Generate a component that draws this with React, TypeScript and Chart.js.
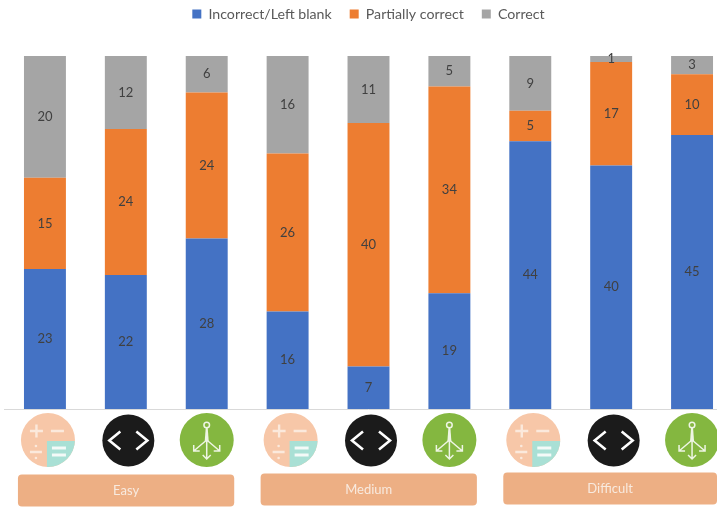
import React, { useEffect, useRef } from "react";
import { Chart, registerables } from "chart.js";

Chart.register(...registerables);

const categories = ["Easy A", "Easy B", "Easy C", "Medium A", "Medium B", "Medium C", "Difficult A", "Difficult B", "Difficult C"];
const iconKinds = ["calc", "code", "anchor", "calc", "code", "anchor", "calc", "code", "anchor"];
const incorrect = [23, 22, 28, 16, 7, 19, 44, 40, 45];
const partial = [15, 24, 24, 26, 40, 34, 5, 17, 10];
const correct = [20, 12, 6, 16, 11, 5, 9, 1, 3];
const groupNames = ["Easy", "Medium", "Difficult"];
const groupFirst = [0, 3, 6];
const groupLast = [2, 5, 8];

const FONT = "Lato, 'Open Sans', sans-serif";

function drawCalc(c: CanvasRenderingContext2D, x: number, y: number, r: number) {
  c.save();
  c.beginPath();
  c.arc(x, y, r, 0, Math.PI * 2);
  c.fillStyle = "#F7C7A8";
  c.fill();
  c.clip();
  c.fillStyle = "#A9E0D5";
  c.fillRect(x - 1, y + 1, r + 2, r + 2);
  c.restore();
  c.strokeStyle = "#FBE9DC";
  c.lineWidth = 2.4;
  c.beginPath();
  c.moveTo(x - 18, y - 9); c.lineTo(x - 5, y - 9);
  c.moveTo(x - 11.5, y - 15.5); c.lineTo(x - 11.5, y - 2.5);
  c.moveTo(x + 3, y - 9); c.lineTo(x + 16, y - 9);
  c.moveTo(x - 18, y + 12); c.lineTo(x - 6, y + 12);
  c.stroke();
  c.fillStyle = "#FBE9DC";
  c.beginPath();
  c.arc(x - 12, y + 6, 1.3, 0, Math.PI * 2);
  c.arc(x - 12, y + 18, 1.3, 0, Math.PI * 2);
  c.fill();
  c.strokeStyle = "#F4FAF8";
  c.lineWidth = 3;
  c.beginPath();
  c.moveTo(x + 4, y + 8); c.lineTo(x + 18, y + 8);
  c.moveTo(x + 4, y + 15); c.lineTo(x + 18, y + 15);
  c.stroke();
}

function drawCode(c: CanvasRenderingContext2D, x: number, y: number, r: number) {
  c.beginPath();
  c.arc(x, y, r, 0, Math.PI * 2);
  c.fillStyle = "#1B1B1B";
  c.fill();
  c.strokeStyle = "#FFFFFF";
  c.lineWidth = 2.6;
  c.beginPath();
  c.moveTo(x - 8, y - 9); c.lineTo(x - 19, y); c.lineTo(x - 8, y + 9);
  c.moveTo(x + 8, y - 9); c.lineTo(x + 19, y); c.lineTo(x + 8, y + 9);
  c.stroke();
}

function drawAnchor(c: CanvasRenderingContext2D, x: number, y: number, r: number) {
  c.beginPath();
  c.arc(x, y, r, 0, Math.PI * 2);
  c.fillStyle = "#84B740";
  c.fill();
  c.strokeStyle = "#EEF5E4";
  c.fillStyle = "#EEF5E4";
  c.lineWidth = 1.5;
  c.beginPath();
  c.arc(x, y - 15, 2.8, 0, Math.PI * 2);
  c.stroke();
  c.beginPath();
  c.moveTo(x - 1, y - 12); c.lineTo(x + 1, y - 12); c.lineTo(x + 2, y + 1); c.lineTo(x - 2, y + 1);
  c.closePath();
  c.fill();
  c.beginPath();
  c.moveTo(x, y); c.lineTo(x, y + 19);
  c.moveTo(x - 4, y + 15); c.lineTo(x, y + 19); c.lineTo(x + 4, y + 15);
  c.moveTo(x, y); c.lineTo(x - 13, y + 11);
  c.moveTo(x - 13, y + 5); c.lineTo(x - 13, y + 11); c.lineTo(x - 7, y + 11);
  c.moveTo(x, y); c.lineTo(x + 13, y + 11);
  c.moveTo(x + 13, y + 5); c.lineTo(x + 13, y + 11); c.lineTo(x + 7, y + 11);
  c.stroke();
}

const decorations = {
  id: "decorations",
  beforeLayout(chart: any) {
    const lg = chart.legend;
    if (lg && !lg.__wrapped) {
      lg.__wrapped = true;
      const fit = lg.fit.bind(lg);
      lg.fit = () => { fit(); lg.height = 67; };
    }
  },
  afterDatasetsDraw(chart: any) {
    const c: CanvasRenderingContext2D = chart.ctx;
    const xs = chart.scales.x;
    const ys = chart.scales.y;
    c.save();
    c.textAlign = "center";
    c.textBaseline = "middle";
    c.font = `13px ${FONT}`;
    c.fillStyle = "#404040";
    chart.data.datasets.forEach((ds: any, di: number) => {
      const meta = chart.getDatasetMeta(di);
      ds.data.forEach((v: number, i: number) => {
        const el = meta.data[i];
        c.fillText(String(v), el.x, (el.y + el.base) / 2);
      });
    });
    const base = ys.getPixelForValue(0);
    iconKinds.forEach((k, i) => {
      const x = xs.getPixelForValue(i);
      if (k === "calc") drawCalc(c, x + 3, base + 31, 27);
      else if (k === "code") drawCode(c, x + 2.5, base + 31.5, 26);
      else drawAnchor(c, x, base + 31, 27);
    });
    groupNames.forEach((g, i) => {
      const l = xs.getPixelForValue(groupFirst[i]) - 27;
      const rEdge = Math.min(xs.getPixelForValue(groupLast[i]) + 27.5, 717);
      const top = base + 65.5 - i;
      c.beginPath();
      c.roundRect(l, top, rEdge - l, 32, 4);
      c.fillStyle = "#EDAF84";
      c.fill();
      c.fillStyle = "#F8EADF";
      c.font = `13px ${FONT}`;
      c.fillText(g, (l + rEdge) / 2, top + 16.5);
    });
    c.restore();
  },
};

export default function App() {
  const ref = useRef<HTMLCanvasElement>(null);
  useEffect(() => {
    const chart = new Chart(ref.current!, {
      type: "bar",
      data: {
        labels: categories,
        datasets: [
          { label: "Incorrect/Left blank", data: incorrect, backgroundColor: "#4472C4" },
          { label: "Partially correct", data: partial, backgroundColor: "#ED7D31" },
          { label: "Correct", data: correct, backgroundColor: "#A5A5A5" },
        ],
      },
      options: {
        responsive: false,
        animation: false,
        devicePixelRatio: 1,
        layout: { padding: { top: -11, left: 4.5, right: 7.5, bottom: 90 } },
        datasets: { bar: { categoryPercentage: 1, barPercentage: 42 / 81 } },
        plugins: {
          tooltip: { enabled: false },
          legend: {
            position: "top",
            labels: {
              boxWidth: 9,
              boxHeight: 9,
              padding: 18,
              color: "#595959",
              font: { family: FONT, size: 14.2 },
            },
          },
        },
        scales: {
          x: {
            stacked: true,
            grid: { display: false },
            border: { color: "#D9D9D9" },
            ticks: { display: false },
          },
          y: { stacked: true, display: false, min: 0, max: 58 },
        },
      },
      plugins: [decorations],
    } as any);
    return () => chart.destroy();
  }, []);
  return (
    <div style={{ position: "fixed", left: 0, top: 0, width: 717, height: 507, overflow: "hidden", background: "#fff" }}>
      <canvas ref={ref} width={740} height={507} style={{ display: "block", width: 740, height: 507, filter: "blur(0.4px)" }} />
    </div>
  );
}
